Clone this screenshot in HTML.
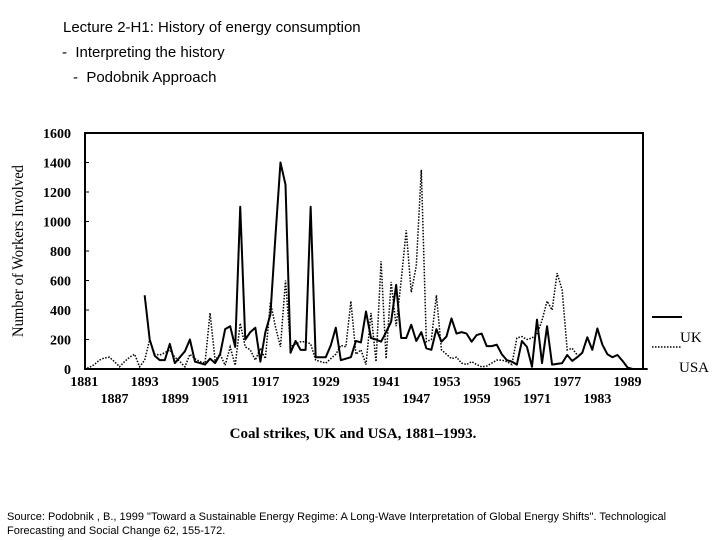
<!DOCTYPE html>
<html><head><meta charset="utf-8"><style>
body{margin:0;width:720px;height:540px;background:#fff;overflow:hidden;position:relative;font-family:"Liberation Sans",sans-serif;}
.t{position:absolute;color:#000;white-space:nowrap;}
</style></head><body>
<div class="t" style="left:63px;top:19px;font-size:15px;">Lecture 2-H1: History of energy consumption</div>
<div class="t" style="left:62px;top:44px;font-size:15px;">-&nbsp; Interpreting the history</div>
<div class="t" style="left:73px;top:69px;font-size:15px;">-&nbsp; Podobnik Approach</div>
<svg id="chart" width="720" height="540" style="position:absolute;left:0;top:0" font-family="Liberation Serif, serif"></svg>
<div class="t" style="left:7px;top:510px;font-size:11px;line-height:14px;">Source: Podobnik , B., 1999 "Toward a Sustainable Energy Regime: A Long-Wave Interpretation of Global Energy Shifts". Technological<br>Forecasting and Social Change 62, 155-172.</div>
<script>
const ukYears=[];for(let y=1893;y<=1993;y++)ukYears.push(y);
const ukValues=[500,200,90,60,60,170,40,80,120,200,50,40,30,70,40,100,270,290,150,1100,200,250,280,50,250,370,900,1400,1250,110,190,130,130,1100,80,80,80,160,280,60,70,80,190,180,390,
210,200,185,250,320,570,210,210,300,190,250,140,130,270,185,220,343,240,250,240,185,230,240,155,155,165,100,60,50,30,190,150,15,335,40,290,30,35,40,95,55,80,110,215,130,275,165,100,80,95,55,10,0,0,0,0];
const usaYears=[];for(let y=1881;y<=1979;y++)usaYears.push(y);
const usaValues=[0,10,30,60,75,80,50,15,50,80,100,15,60,200,100,95,110,130,80,50,15,100,70,50,40,380,60,100,25,150,25,310,150,130,60,140,70,455,287,150,600,150,170,185,185,170,60,50,40,70,100,160,150,
460,100,130,30,380,50,730,70,590,290,600,940,520,700,1350,185,200,500,130,100,70,80,40,30,50,30,15,20,40,60,60,50,30,210,220,200,210,235,330,460,400,650,535,130,140,95];
const yTicks=[0,200,400,600,800,1000,1200,1400,1600];
const xTicks=[1881,1887,1893,1899,1905,1911,1917,1923,1929,1935,1941,1947,1953,1959,1965,1971,1977,1983,1989];
const svg=document.getElementById('chart');const NS='http://www.w3.org/2000/svg';
const X=y=>84.3+(y-1881)*5.03, Y=v=>369-v*0.1475;
function mk(t,a){const e=document.createElementNS(NS,t);for(const k in a)e.setAttribute(k,a[k]);svg.appendChild(e);return e;}
const frame=mk('rect',{x:85,y:133,width:558,height:236,fill:'none',stroke:'#000','stroke-width':2});

yTicks.forEach(v=>{const t=mk('text',{x:71,y:Y(v)+5,'text-anchor':'end','font-size':14,'font-weight':'bold'});t.textContent=v;

const l=mk('line',{x1:85,x2:89,y1:Y(v),y2:Y(v),stroke:'#000'});});
xTicks.forEach((yr,i)=>{const t=mk('text',{x:X(yr),y:i%2?403:386,'text-anchor':'middle','font-size':14,'font-weight':'bold'});t.textContent=yr;
});
const yt=mk('text',{x:0,y:0,transform:'translate(23,251) rotate(-90)','text-anchor':'middle','font-size':16,textLength:172,lengthAdjust:'spacingAndGlyphs'});yt.textContent='Number of Workers Involved';

const cap=mk('text',{x:353,y:438,'text-anchor':'middle','font-size':15,'font-weight':'bold'});cap.textContent='Coal strikes, UK and USA, 1881–1993.';

const usa=mk('polyline',{points:usaYears.map((y,i)=>X(y)+','+Y(usaValues[i])).join(' '),fill:'none',stroke:'#000','stroke-width':1.5,'stroke-dasharray':'1.5,1.5'});

const uk=mk('polyline',{points:ukYears.map((y,i)=>X(y)+','+Y(ukValues[i])).join(' '),fill:'none',stroke:'#000','stroke-width':2,'stroke-linejoin':'round'});

const l1=mk('line',{x1:652,x2:682,y1:317,y2:317,stroke:'#000','stroke-width':2});
const t1=mk('text',{x:680,y:342,'font-size':15});t1.textContent='UK';
const l2=mk('line',{x1:652,x2:682,y1:347,y2:347,stroke:'#000','stroke-width':1.5,'stroke-dasharray':'1.5,1.5'});
const t2=mk('text',{x:679,y:372,'font-size':15});t2.textContent='USA';
</script>
</body></html>
